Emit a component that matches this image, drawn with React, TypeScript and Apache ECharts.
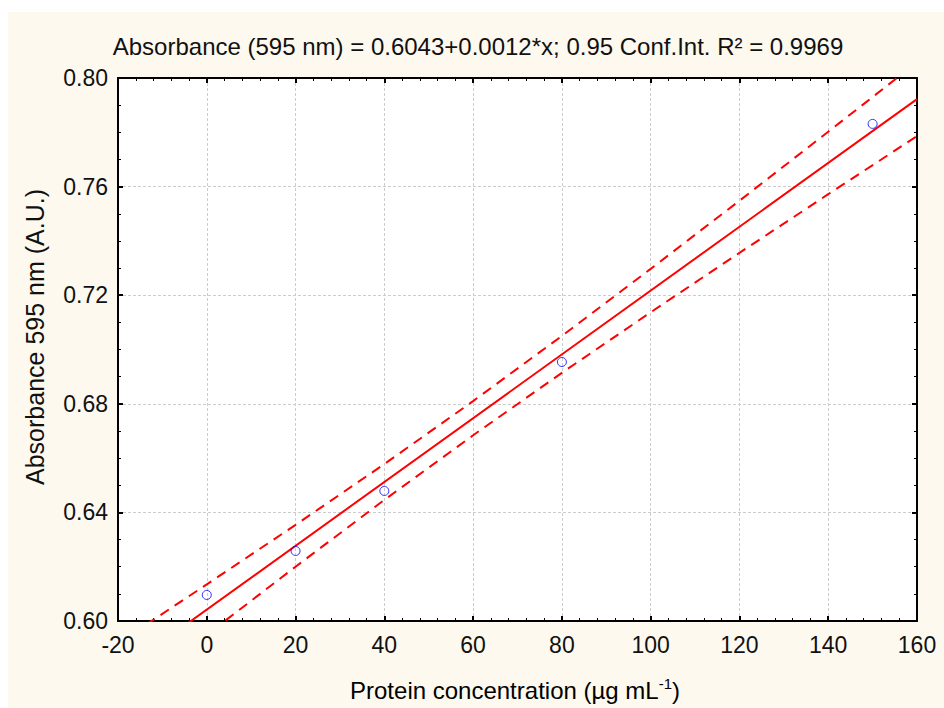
import React, { useEffect, useRef } from "react";
import * as echarts from "echarts";

const concentrations = [0, 20, 40, 80, 150];
const absorbances = [0.6096, 0.6258, 0.6479, 0.6954, 0.7831];

const fitX = [-20, 160];
const fitY = [0.5807, 0.7922];

const bandX = [-20, 0, 20, 40, 60, 80, 100, 120, 140, 160];
const upperBand = [0.5918, 0.6135, 0.6354, 0.6578, 0.681, 0.705, 0.7297, 0.7548, 0.7802, 0.8058];
const lowerBand = [0.5696, 0.5949, 0.62, 0.6446, 0.6684, 0.6914, 0.7137, 0.7356, 0.7572, 0.7786];

const titleText = "Absorbance (595 nm) = 0.6043+0.0012*x; 0.95 Conf.Int. R² = 0.9969";
const xName = "Protein concentration (µg mL";
const yName = "Absorbance 595 nm (A.U.)";

const FONT = "'Liberation Sans', Arial, sans-serif";

export default function App() {
  const ref = useRef<HTMLDivElement>(null);
  useEffect(() => {
    if (!ref.current) return;
    const chart = echarts.init(ref.current, null, { renderer: "svg" });
    const axisCommon = {
      type: "value" as const,
      axisLine: { show: true, onZero: false, lineStyle: { color: "#000", width: 2 } },
      axisTick: { show: true, inside: true, length: 5, lineStyle: { color: "#000", width: 2 } },
      minorTick: { show: true, length: 3, lineStyle: { color: "#000", width: 1 } },
    };
    chart.setOption({
      animation: false,
      backgroundColor: "#ffffff",
      textStyle: { fontFamily: FONT },
      grid: { left: 118, right: 27, top: 78, bottom: 87, containLabel: false },
      xAxis: [
        {
          ...axisCommon,
          position: "bottom",
          min: -20,
          max: 160,
          interval: 20,
          minorTick: { ...axisCommon.minorTick, splitNumber: 5 },
          axisLabel: { color: "#111", fontSize: 23, margin: 12, fontFamily: FONT },
          splitLine: { show: true, lineStyle: { color: "#cccccc", type: [3, 2], width: 1 } },
        },
        {
          ...axisCommon,
          position: "top",
          min: -20,
          max: 160,
          interval: 20,
          minorTick: { ...axisCommon.minorTick, splitNumber: 5 },
          axisLabel: { show: false },
          splitLine: { show: false },
        },
      ],
      yAxis: [
        {
          ...axisCommon,
          position: "left",
          min: 0.6,
          max: 0.8,
          interval: 0.04,
          minorTick: { ...axisCommon.minorTick, splitNumber: 4 },
          axisLabel: {
            color: "#111",
            fontSize: 23,
            margin: 10,
            fontFamily: FONT,
            formatter: (v: number) => v.toFixed(2),
          },
          splitLine: { show: true, lineStyle: { color: "#cccccc", type: [3, 2], width: 1 } },
        },
        {
          ...axisCommon,
          position: "right",
          min: 0.6,
          max: 0.8,
          interval: 0.04,
          minorTick: { ...axisCommon.minorTick, splitNumber: 4 },
          axisLabel: { show: false },
          splitLine: { show: false },
        },
      ],
      graphic: [
        {
          type: "rect",
          z: -10,
          silent: true,
          shape: { x: 8, y: 12, width: 936, height: 696 },
          style: { fill: "#fdf9ef" },
        },
        {
          type: "rect",
          z: -9,
          silent: true,
          shape: { x: 118, y: 78, width: 799, height: 543 },
          style: { fill: "#ffffff" },
        },
        {
          type: "text",
          x: 478,
          y: 46,
          style: {
            text: titleText,
            font: `24px ${FONT}`,
            fill: "#111",
            align: "center",
            verticalAlign: "middle",
          },
        },
        {
          type: "text",
          x: 515,
          y: 690,
          style: {
            text: `{n|${xName}}{s|-1}{n|)}`,
            align: "center",
            verticalAlign: "middle",
            rich: {
              n: { fontSize: 24, fontFamily: FONT, color: "#111" },
              s: { fontSize: 15, fontFamily: FONT, verticalAlign: "top", color: "#111", padding: [0, 0, 14, 0] },
            },
          },
        },
        {
          type: "text",
          x: 35,
          y: 337,
          rotation: Math.PI / 2,
          style: {
            text: yName,
            font: `25px ${FONT}`,
            fill: "#111",
            align: "center",
            verticalAlign: "middle",
          },
        },
      ],
      series: [
        {
          type: "line",
          data: fitX.map((x, i) => [x, fitY[i]]),
          symbol: "none",
          clip: true,
          lineStyle: { color: "#ff0000", width: 2 },
          z: 3,
        },
        {
          type: "line",
          data: bandX.map((x, i) => [x, upperBand[i]]),
          symbol: "none",
          clip: true,
          lineStyle: { color: "#ff0000", width: 2, type: [10, 7] },
          z: 3,
        },
        {
          type: "line",
          data: bandX.map((x, i) => [x, lowerBand[i]]),
          symbol: "none",
          clip: true,
          lineStyle: { color: "#ff0000", width: 2, type: [10, 7] },
          z: 3,
        },
        {
          type: "scatter",
          data: concentrations.map((x, i) => [x, absorbances[i]]),
          symbol: "circle",
          symbolSize: 9,
          itemStyle: { color: "rgba(255,255,255,0)", borderColor: "#0000ff", borderWidth: 1 },
          z: 5,
        },
      ],
    });
    return () => chart.dispose();
  }, []);
  return (
    <div
      ref={ref}
      style={{ position: "absolute", left: 0, top: 0, width: 944, height: 708 }}
    />
  );
}
